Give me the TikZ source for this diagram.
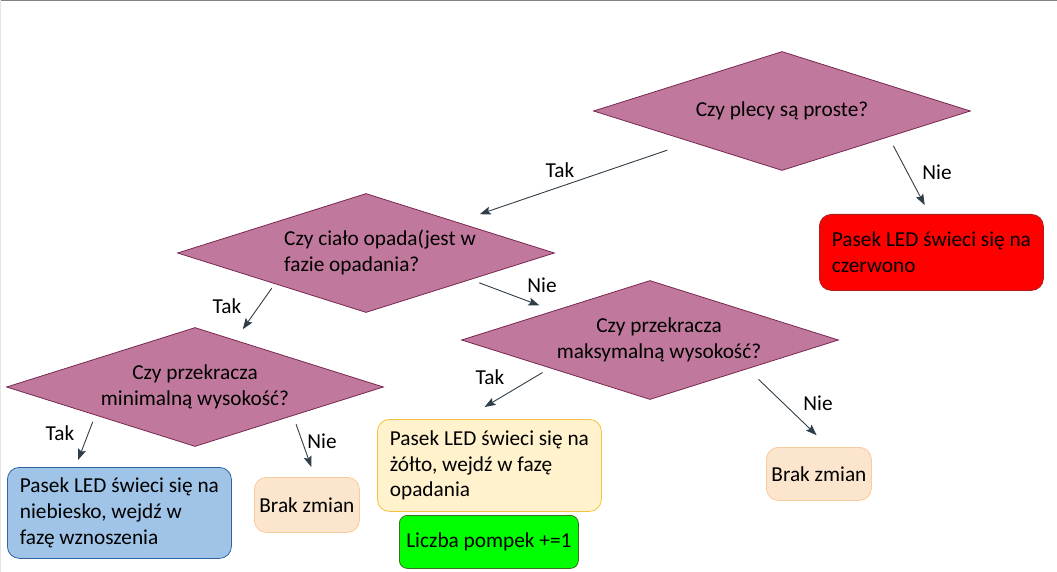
\documentclass[tikz,border=0pt]{standalone}
\usepackage{fontspec}
\setmainfont{Carlito}
\usetikzlibrary{positioning, calc, arrows.meta, shapes.geometric}

\definecolor{decfill}{RGB}{192,121,156}
\definecolor{decline}{RGB}{120,40,80}
\definecolor{linkcol}{RGB}{47,62,72}
\definecolor{redline}{RGB}{175,30,30}
\definecolor{bluefill}{RGB}{159,196,232}
\definecolor{blueline}{RGB}{46,100,160}
\definecolor{yelfill}{RGB}{255,242,204}
\definecolor{yelline}{RGB}{244,194,60}
\definecolor{grnfill}{RGB}{0,255,0}
\definecolor{grnline}{RGB}{56,110,30}
\definecolor{peachfill}{RGB}{252,229,205}
\definecolor{peachline}{RGB}{249,203,156}
\definecolor{framegray}{RGB}{125,130,135}

\tikzset{
  decision/.style={diamond, draw=decline, fill=decfill, line width=0.8pt,
    aspect=3.17, minimum width=377pt, minimum height=119pt, inner sep=-10pt, align=center},
  outbox/.style={rectangle, rounded corners=12pt, line width=0.8pt, align=left,
    anchor=north west, inner sep=0pt},
  link/.style={-{Stealth[length=11pt,width=8pt,inset=2pt]}, line width=0.9pt, draw=linkcol},
  lbl/.style={inner sep=0pt}
}

\begin{document}
\begin{tikzpicture}[x=1pt, y=-1pt, font=\fontsize{21.3}{25.8}\selectfont]
    \useasboundingbox (0,0) rectangle (1057,572);
    \draw[framegray, line width=1.5pt] (0,0.75) -- (1057,0.75);
    \draw[gray!20, line width=1pt] (0.5,0) -- (0.5,572);

    % decisions
    \node[decision] (plecy) at (782,111) {Czy plecy są proste?};
    \node[decision] (opada) at (366,253)
        {\hspace*{28pt}\begin{tabular}{@{}l@{}}Czy ciało opada(jest w\\fazie opadania?\end{tabular}};
    \node[decision] (minw) at (195,387) {Czy przekracza\\minimalną wysokość?};
    \node[decision] (maxw) at (650,340)
        {\hspace*{18pt}\begin{tabular}{@{}c@{}}Czy przekracza\\maksymalną wysokość?\end{tabular}};

    % outcomes
    \node[outbox, draw=redline, fill=red, minimum width=224pt, minimum height=76pt]
        (czerwony) at (819,214) {Pasek LED świeci się na\\czerwono};
    \node[outbox, draw=blueline, fill=bluefill, minimum width=224pt, minimum height=91pt]
        (niebieski) at (7,467) {Pasek LED świeci się na\\niebiesko, wejdź w\\fazę wznoszenia};
    \node[outbox, draw=peachline, fill=peachfill, minimum width=105pt, minimum height=55pt, align=center]
        (brakA) at (254,477) {Brak zmian};
    \node[outbox, draw=yelline, fill=yelfill, minimum width=224pt, minimum height=92pt]
        (zolty) at (377,419) {Pasek LED świeci się na\\żółto, wejdź w fazę\\opadania};
    \node[outbox, draw=grnline, fill=grnfill, minimum width=179pt, minimum height=53pt, rounded corners=8pt]
        (pompki) at (399,515) {Liczba pompek +=1};
    \node[outbox, draw=peachline, fill=peachfill, minimum width=105pt, minimum height=53pt, align=center]
        (brakB) at (766,447) {Brak zmian};

    % connectors
    \draw[link, shorten <=25pt, shorten >=24pt] (plecy) -- (opada);
    \draw[link, shorten <=10pt, shorten >=10pt] ($(plecy.south)!0.565!(plecy.east)$) -- ([xshift=-2pt]czerwony.north);
    \draw[link, shorten <=5pt, shorten >=13pt] ($(opada.west)!0.517!(opada.south)$) -- ($(minw.north)!0.213!(minw.east)$);
    \draw[link, shorten <=9pt, shorten >=15pt] ($(opada.south)!0.555!(opada.east)$) -- ($(maxw.west)!0.489!(maxw.north)$);
    \draw[link, shorten <=7pt, shorten >=7.5pt] ($(minw.west)!0.472!(minw.south)$) -- ([xshift=-44pt]niebieski.north);
    \draw[link, shorten <=9pt, shorten >=10.5pt] ($(minw.south)!0.519!(minw.east)$) -- ([xshift=8pt]brakA.north);
    \draw[link, shorten <=8.5pt, shorten >=23.5pt] ($(maxw.west)!0.47!(maxw.south)$) -- ([xshift=-25pt]zolty.north);
    \draw[link, shorten <=15pt, shorten >=17pt] ($(maxw.south)!0.517!(maxw.east)$) -- ([xshift=10pt]brakB.north);

    % branch labels
    \node[lbl] (takA) at (560,170) {Tak};
    \node[lbl] (nieA) at (937,172) {Nie};
    \node[lbl] (takB) at (227,306) {Tak};
    \node[lbl] (nieB) at (542,285) {Nie};
    \node[lbl] (takC) at (60,433) {Tak};
    \node[lbl] (nieC) at (322,441) {Nie};
    \node[lbl] (takD) at (490,377) {Tak};
    \node[lbl] (nieD) at (818,403) {Nie};
\end{tikzpicture}
\end{document}
